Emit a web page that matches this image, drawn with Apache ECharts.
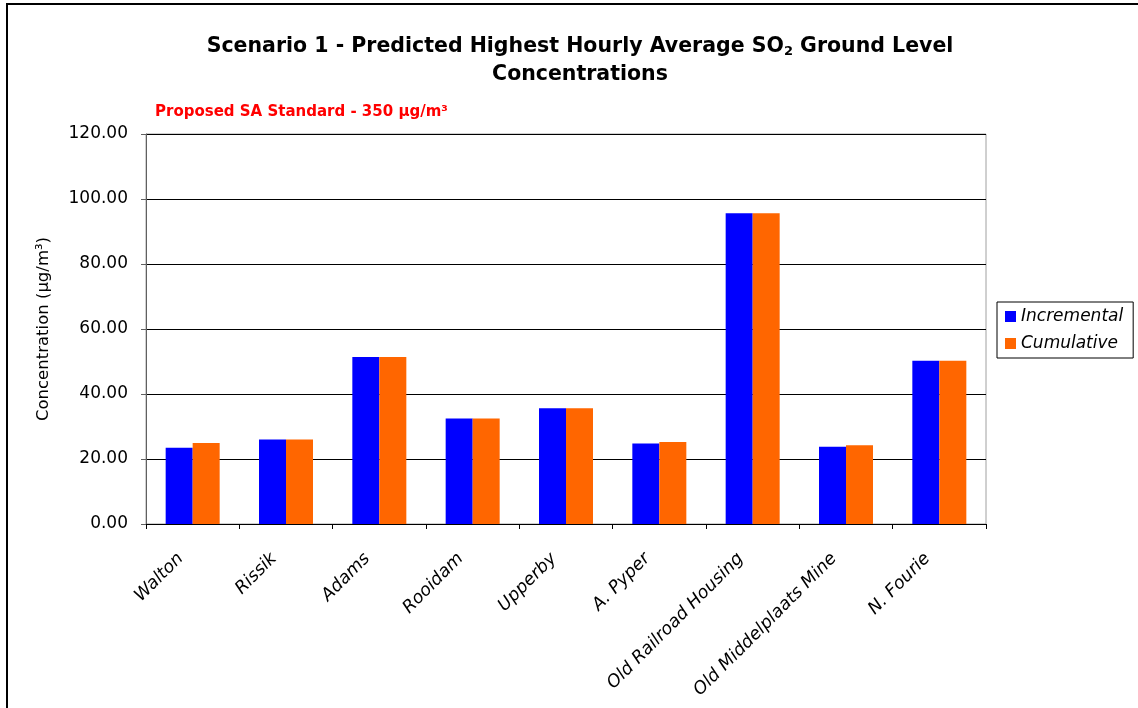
<!DOCTYPE html>
<html lang="en">
<head>
  <meta charset="UTF-8">
  <title>SO2 concentrations</title>
  <script src="https://cdn.jsdelivr.net/npm/echarts@6/dist/echarts.min.js"></script>
  <style>
    html, body { margin: 0; padding: 0; background: #fff; }
    #chart { width: 1138px; height: 708px; }
  </style>
</head>
<body>
<div id="chart"></div>
<script>
  // receptors along x
  const sites = ['Walton', 'Rissik', 'Adams', 'Rooidam', 'Upperby', 'A. Pyper',
    'Old Railroad Housing', 'Old Middelplaats Mine', 'N. Fourie'];
  // values (µg/m³)
  const incremental = [23.5, 26.0, 51.4, 32.5, 35.6, 24.8, 95.6, 23.8, 50.2];
  const cumulative  = [24.9, 26.0, 51.4, 32.5, 35.6, 25.2, 95.6, 24.2, 50.2];
  const yMin = 0, yMax = 120, yStep = 20;

  let myChart = echarts.init(document.getElementById('chart'));
  const font = 'DejaVu Sans, Liberation Sans, sans-serif';

  let option = {
    backgroundColor: '#fff',
    animation: false,
    graphic: [
      {
        type: 'rect',
        shape: { x: 7, y: 4, width: 1200, height: 800 },
        style: { fill: 'none', stroke: '#000', lineWidth: 2 },
        silent: true
      }
    ],
    title: [
      {
        text: 'Scenario 1 - Predicted Highest Hourly Average SO{sub|2} Ground Level\nConcentrations',
        left: 575,
        top: 28,
        textAlign: 'center',
        textStyle: {
          fontFamily: font,
          fontSize: 20.5,
          fontWeight: 'bold',
          color: '#000',
          lineHeight: 28,
          rich: {
            sub: { fontFamily: font, fontSize: 13, fontWeight: 'bold', color: '#000', padding: [10, 0, 0, 0] }
          }
        }
      },
      {
        text: 'Proposed SA Standard - 350 µg/m³',
        left: 150,
        top: 100,
        textStyle: { fontFamily: font, fontSize: 15, fontWeight: 'bold', color: '#ff0000' }
      }
    ],
    legend: {
      orient: 'vertical',
      left: 997,
      top: 302,
      padding: [6, 10, 6, 8],
      itemGap: 10,
      itemWidth: 11,
      itemHeight: 11,
      borderColor: '#000',
      borderWidth: 1,
      icon: 'rect',
      textStyle: { fontFamily: font, fontSize: 17, fontStyle: 'italic', color: '#000', padding: [0, 0, 0, 0] },
      data: ['Incremental', 'Cumulative']
    },
    grid: {
      left: 146,
      top: 134,
      width: 840,
      height: 390,
      show: true,
      borderColor: '#a0a0a0',
      borderWidth: 1,
      backgroundColor: '#fff'
    },
    xAxis: {
      type: 'category',
      data: sites,
      axisLine: { lineStyle: { color: '#000', width: 1 } },
      axisTick: { show: true, length: 5, lineStyle: { color: '#000' } },
      axisLabel: {
        interval: 0,
        rotate: 45,
        margin: 20,
        padding: [0, 17, 0, 0],
        fontFamily: font,
        fontSize: 17.5,
        fontStyle: 'italic',
        color: '#000'
      }
    },
    yAxis: {
      type: 'value',
      min: yMin,
      max: yMax,
      interval: yStep,
      name: 'Concentration (µg/m³)',
      nameLocation: 'middle',
      nameGap: 94,
      nameTextStyle: { fontFamily: font, fontSize: 16.5, color: '#000' },
      axisLine: { show: true, lineStyle: { color: '#606060', width: 1 } },
      axisTick: { show: true, length: 5, lineStyle: { color: '#606060' } },
      splitLine: { show: true, lineStyle: { color: '#000', width: 1 } },
      axisLabel: {
        margin: 18,
        fontFamily: font,
        fontSize: 17,
        color: '#000',
        formatter: v => v.toFixed(2)
      }
    },
    series: [
      {
        name: 'Incremental',
        type: 'bar',
        barWidth: 27,
        barGap: '0%',
        itemStyle: { color: '#0000ff' },
        data: incremental
      },
      {
        name: 'Cumulative',
        type: 'bar',
        barWidth: 27,
        barGap: '0%',
        itemStyle: { color: '#ff6600' },
        data: cumulative
      }
    ]
  };
  myChart.setOption(option, true);
  window.addEventListener('resize', function () {
    myChart.resize();
  });
</script>
</body>
</html>
